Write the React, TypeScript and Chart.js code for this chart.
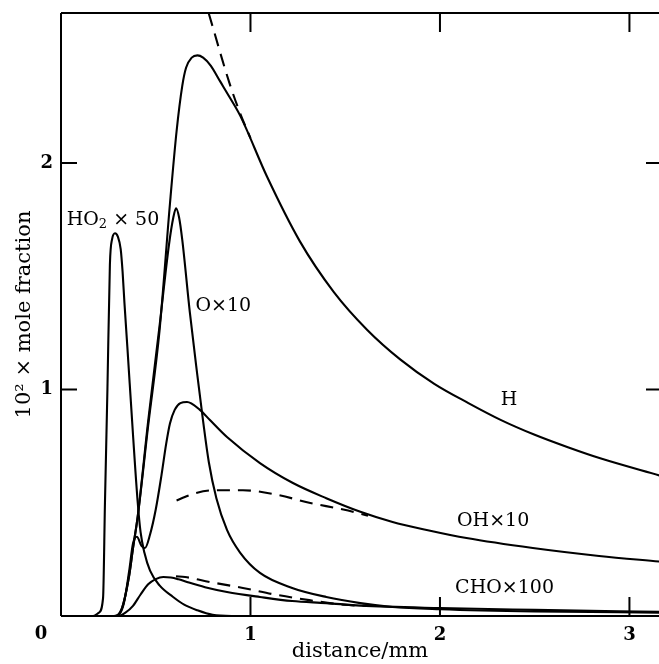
import React, { useEffect, useRef } from 'react';
import { Chart, registerables } from 'chart.js';
Chart.register(...registerables);

// ---- tick values ----
const xTickValues = [0, 1, 2, 3];
const yTickValues = [0, 1, 2];

// ---- H ----
const hX = [0, 0.28, 0.32, 0.36, 0.38, 0.405, 0.46, 0.52, 0.575, 0.61, 0.64, 0.66, 0.69, 0.72, 0.75, 0.79, 0.84, 0.89, 0.945, 1.087, 1.26, 1.44, 1.615, 1.79, 1.97, 2.15, 2.32, 2.50, 2.675, 2.85, 3.16];
const hY = [0, 0, 0.03, 0.18, 0.30, 0.44, 0.84, 1.26, 1.82, 2.14, 2.34, 2.42, 2.465, 2.475, 2.465, 2.43, 2.36, 2.29, 2.21, 1.94, 1.655, 1.43, 1.264, 1.133, 1.025, 0.94, 0.866, 0.80, 0.745, 0.695, 0.62];
// H dashed
const hdX = [0.78, 0.89, 0.945, 1.0];
const hdY = [2.66, 2.35, 2.22, 2.11];

// ---- O x10 ----
const oX = [0, 0.28, 0.32, 0.36, 0.38, 0.405, 0.46, 0.52, 0.57, 0.593, 0.607, 0.623, 0.64, 0.68, 0.72, 0.75, 0.78, 0.82, 0.876, 0.945, 1.05, 1.22, 1.40, 1.58, 1.75, 2.0, 2.5, 3.16];
const oY = [0, 0, 0.03, 0.18, 0.30, 0.44, 0.86, 1.28, 1.64, 1.76, 1.80, 1.76, 1.66, 1.34, 1.06, 0.86, 0.68, 0.52, 0.38, 0.28, 0.19, 0.124, 0.084, 0.057, 0.04, 0.03, 0.02, 0.015];

// ---- OH x10 ----
const ohX = [0, 0.29, 0.33, 0.36, 0.38, 0.40, 0.425, 0.443, 0.47, 0.50, 0.53, 0.555, 0.575, 0.60, 0.63, 0.665, 0.733, 0.786, 0.876, 1.05, 1.224, 1.40, 1.58, 1.75, 1.93, 2.14, 2.49, 2.84, 3.16];
const ohY = [0, 0, 0.05, 0.2, 0.32, 0.35, 0.31, 0.30, 0.36, 0.47, 0.62, 0.76, 0.85, 0.91, 0.94, 0.945, 0.91, 0.865, 0.79, 0.675, 0.587, 0.52, 0.46, 0.415, 0.38, 0.344, 0.30, 0.265, 0.24];
// OH dashed
const ohdX = [0.61, 0.70, 0.80, 0.96, 1.14, 1.31, 1.49, 1.62];
const ohdY = [0.51, 0.54, 0.555, 0.555, 0.535, 0.50, 0.47, 0.443];

// ---- HO2 x50 ----
const ho2X = [0, 0.17, 0.20, 0.222, 0.232, 0.245, 0.258, 0.27, 0.285, 0.30, 0.315, 0.325, 0.335, 0.35, 0.38, 0.405, 0.42, 0.44, 0.47, 0.52, 0.59, 0.65, 0.72, 0.80, 0.9, 3.16];
const ho2Y = [0, 0, 0.015, 0.08, 0.5, 1.0, 1.55, 1.665, 1.69, 1.675, 1.62, 1.52, 1.38, 1.19, 0.80, 0.50, 0.37, 0.28, 0.20, 0.135, 0.085, 0.05, 0.025, 0.005, 0, 0];

// ---- CHO x100 ----
const choX = [0, 0.30, 0.34, 0.38, 0.42, 0.46, 0.50, 0.54, 0.58, 0.62, 0.665, 0.76, 0.876, 1.05, 1.22, 1.40, 1.58, 2.0, 2.5, 3.16];
const choY = [0, 0, 0.015, 0.045, 0.095, 0.14, 0.163, 0.172, 0.17, 0.162, 0.15, 0.127, 0.106, 0.084, 0.066, 0.057, 0.046, 0.035, 0.027, 0.018];
// CHO dashed
const chodX = [0.607, 0.655, 0.786, 0.96, 1.14, 1.31, 1.49, 1.62];
const chodY = [0.175, 0.172, 0.15, 0.124, 0.093, 0.07, 0.05, 0.045];

// ---- curve labels ----
const labelTexts = ['HO|2| × 50', 'O×10', 'H', 'OH×10', 'CHO×100'];
const labelX = [0.03, 0.71, 2.364, 2.09, 2.08];
const labelY = [1.748, 1.369, 0.954, 0.42, 0.124];
const labelAlign: CanvasTextAlign[] = ['left', 'left', 'center', 'left', 'left'];

const pts = (xs: number[], ys: number[]) => xs.map((x, i) => ({ x, y: ys[i] }));

const SERIF = '"DejaVu Serif", "Liberation Serif", serif';

const line = (data: any, dashed = false) => ({
  data,
  borderColor: '#000',
  borderWidth: 2.1,
  pointRadius: 0,
  fill: false,
  cubicInterpolationMode: 'monotone' as const,
  borderDash: dashed ? [13, 8] : [],
});

const framePlugin = {
  id: 'frame',
  afterDatasetsDraw(chart: any) {
    const { ctx, chartArea: a, scales } = chart;
    ctx.save();
    ctx.strokeStyle = '#000';
    ctx.lineWidth = 2;
    ctx.setLineDash([]);
    ctx.beginPath();
    ctx.moveTo(a.left, a.top);
    ctx.lineTo(a.right, a.top);
    ctx.moveTo(a.left, a.top);
    ctx.lineTo(a.left, a.bottom);
    ctx.moveTo(a.left, a.bottom);
    ctx.lineTo(a.right, a.bottom);
    for (const v of xTickValues) {
      if (v === 0) continue;
      const px = scales.x.getPixelForValue(v);
      ctx.moveTo(px, a.bottom);
      ctx.lineTo(px, a.bottom - 19);
      ctx.moveTo(px, a.top);
      ctx.lineTo(px, a.top + 19);
    }
    for (const v of yTickValues) {
      if (v === 0) continue;
      const py = scales.y.getPixelForValue(v);
      ctx.moveTo(a.left, py);
      ctx.lineTo(a.left + 16, py);
      ctx.moveTo(a.right, py);
      ctx.lineTo(a.right - 13, py);
    }
    ctx.stroke();

    // origin label
    ctx.fillStyle = '#000';
    ctx.font = `bold 18px ${SERIF}`;
    ctx.textAlign = 'center';
    ctx.textBaseline = 'middle';
    ctx.fillText('0', a.left - 20, a.bottom + 18);

    // curve labels
    const fs = 19;
    labelTexts.forEach((t, i) => {
      const px = scales.x.getPixelForValue(labelX[i]);
      const py = scales.y.getPixelForValue(labelY[i]);
      ctx.textBaseline = 'middle';
      const parts = t.split('|');
      if (parts.length === 1) {
        ctx.font = `${fs}px ${SERIF}`;
        ctx.textAlign = labelAlign[i];
        ctx.fillText(t, px, py);
      } else {
        ctx.textAlign = 'left';
        let x = px;
        parts.forEach((p, j) => {
          const sub = j % 2 === 1;
          ctx.font = `${sub ? 13 : fs}px ${SERIF}`;
          ctx.fillText(p, x, sub ? py + 5 : py);
          x += ctx.measureText(p).width;
        });
      }
    });
    ctx.restore();
  },
};

export default function App() {
  const ref = useRef<HTMLCanvasElement>(null);
  useEffect(() => {
    const chart = new Chart(ref.current!, {
      type: 'line',
      data: {
        datasets: [
          line(pts(hX, hY)),
          line(pts(hdX, hdY), true),
          line(pts(oX, oY)),
          line(pts(ohX, ohY)),
          line(pts(ohdX, ohdY), true),
          line(pts(ho2X, ho2Y)),
          line(pts(choX, choY)),
          line(pts(chodX, chodY), true),
        ],
      },
      options: {
        animation: false,
        responsive: false,
        devicePixelRatio: 1,
        layout: { padding: { left: 0, right: 0, top: 13, bottom: 0 } },
        plugins: { legend: { display: false }, tooltip: { enabled: false } },
        scales: {
          x: {
            type: 'linear',
            min: 0,
            max: 3.156,
            grid: { display: false, drawTicks: false },
            border: { display: false },
            afterBuildTicks: (s: any) => {
              s.ticks = xTickValues.map((v) => ({ value: v }));
            },
            afterFit: (s: any) => {
              s.height = 48;
              s.paddingLeft = 0;
              s.paddingRight = 0;
            },
            ticks: {
              color: '#000',
              font: { family: SERIF, size: 18, weight: 'bold' },
              padding: 9,
              maxRotation: 0,
              autoSkip: false,
              callback: (v: any) => (v === 0 ? '' : String(v)),
            },
            title: {
              display: true,
              text: 'distance/mm',
              color: '#000',
              font: { family: SERIF, size: 21 },
              padding: { top: 0, bottom: 0 },
            },
          },
          y: {
            type: 'linear',
            min: 0,
            max: 2.662,
            grid: { display: false, drawTicks: false },
            border: { display: false },
            afterBuildTicks: (s: any) => {
              s.ticks = yTickValues.map((v) => ({ value: v }));
            },
            afterFit: (s: any) => {
              s.width = 61;
              s.paddingTop = 0;
              s.paddingBottom = 0;
            },
            ticks: {
              color: '#000',
              font: { family: SERIF, size: 18, weight: 'bold' },
              padding: 8,
              autoSkip: false,
              callback: (v: any) => (v === 0 ? '' : String(v)),
            },
            title: {
              display: true,
              text: '10² × mole fraction',
              color: '#000',
              font: { family: SERIF, size: 21 },
              padding: { top: 12, bottom: 0 },
            },
          },
        },
      },
      plugins: [framePlugin],
    } as any);
    return () => chart.destroy();
  }, []);
  return (
    <div style={{ position: 'absolute', left: 0, top: 0, width: 659, height: 664, background: '#fff' }}>
      <canvas ref={ref} width={659} height={664} />
    </div>
  );
}
